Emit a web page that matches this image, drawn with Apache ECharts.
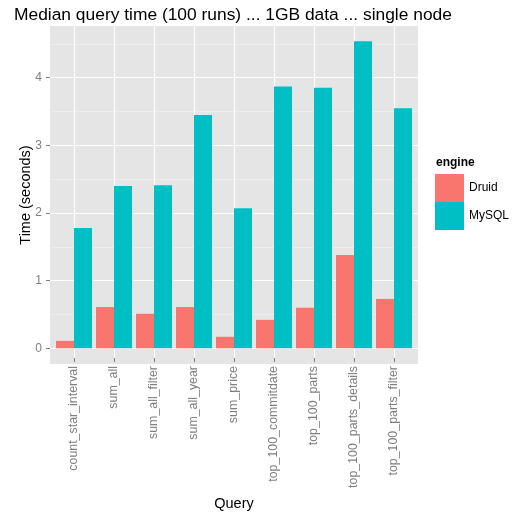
<!DOCTYPE html>
<html><head><meta charset="utf-8">
<script src="https://cdn.jsdelivr.net/npm/echarts@6/dist/echarts.min.js"></script>
<style>html,body{margin:0;padding:0;background:#fff}#c{width:513px;height:516px}</style>
</head><body><div id="c"></div>
<script>
const categories = ['count_star_interval','sum_all','sum_all_filter','sum_all_year','sum_price','top_100_commitdate','top_100_parts','top_100_parts_details','top_100_parts_filter'];
const druid = [0.11, 0.61, 0.51, 0.61, 0.17, 0.42, 0.60, 1.38, 0.73];
const mysql = [1.78, 2.40, 2.41, 3.45, 2.07, 3.87, 3.85, 4.54, 3.55];
const seriesNames = ['Druid', 'MySQL'];
const yMajorMax = 4;
const yMinorMax = 4.5;

const W = 513, H = 516;
const pL = 50, pR = 418, pT = 26, pB = 364;
const y0 = 348.3, unit = 67.65;
const catW = (pR - pL) / (categories.length - 1 + 1.2);
const font = "'Liberation Sans', Arial, Helvetica, sans-serif";
const gray = '#7F7F7F';

const chart = echarts.init(document.getElementById('c'), null, {renderer: 'canvas'});
const hidden = {axisLine:{show:false}, axisTick:{show:false}, axisLabel:{show:false}, splitLine:{show:false}};
const option = {
  animation: false,
  backgroundColor: '#fff',
  title: [
    {text: 'Median query time (100 runs) ... 1GB data ... single node', left: 14, top: 7, padding: 0,
     textStyle: {fontFamily: font, fontSize: 17.4, fontWeight: 'normal', color: '#000'}},
    {text: 'engine', left: 436, top: 157, padding: 0,
     textStyle: {fontFamily: font, fontSize: 12, fontWeight: 'bold', color: '#000'}}
  ],
  legend: {
    orient: 'vertical', left: 435, top: 174, padding: 0, itemGap: 0,
    itemWidth: 29, itemHeight: 28, icon: 'rect',
    textStyle: {fontFamily: font, fontSize: 12, color: '#000'},
    data: seriesNames
  },
  grid: [
    {left: pL, top: pT, width: pR - pL, height: pB - pT, show: true, backgroundColor: '#E5E5E5', borderWidth: 0},
    {left: pL, top: y0 - yMinorMax * unit, width: pR - pL, bottom: H - y0},
    {left: pL, top: y0 - yMajorMax * unit, width: pR - pL, bottom: H - y0},
    {left: pL + 0.6 * catW, top: pT, width: (categories.length - 1) * catW, height: pB - pT},
    {left: pL + 0.1 * catW, top: y0 - yMajorMax * unit, width: categories.length * catW, bottom: H - y0}
  ],
  xAxis: [
    Object.assign({type: 'value', gridIndex: 0, min: 0, max: 1}, hidden),
    Object.assign({type: 'value', gridIndex: 1, min: 0, max: 1}, hidden),
    Object.assign({type: 'value', gridIndex: 2, min: 0, max: 1}, hidden),
    {type: 'category', gridIndex: 3, data: categories, boundaryGap: false,
     name: 'Query', nameLocation: 'middle', nameGap: 138,
     nameTextStyle: {fontFamily: font, fontSize: 14.5, color: '#000'},
     axisLine: {show: false},
     axisTick: {show: true, length: 4, lineStyle: {color: gray, width: 1}},
     axisLabel: {interval: 0, rotate: 90, margin: 8, fontFamily: font, fontSize: 12.4, color: gray},
     splitLine: {show: true, lineStyle: {color: '#FFFFFF', width: 1.2}}},
    Object.assign({type: 'category', gridIndex: 4, data: categories}, hidden)
  ],
  yAxis: [
    Object.assign({type: 'value', gridIndex: 0, min: 0, max: 1,
     name: 'Time (seconds)', nameLocation: 'middle', nameRotate: 90, nameGap: 17,
     nameTextStyle: {fontFamily: font, fontSize: 14.5, color: '#000'}}, hidden),
    {type: 'value', gridIndex: 1, min: 0, max: yMinorMax, interval: 0.5, z: 0,
     axisLine: {show: false}, axisTick: {show: false}, axisLabel: {show: false},
     splitLine: {show: true, lineStyle: {color: '#F2F2F2', width: 0.6}}},
    {type: 'value', gridIndex: 2, min: 0, max: yMajorMax, interval: 1, z: 1,
     axisLine: {show: false},
     axisTick: {show: true, length: 4, lineStyle: {color: gray, width: 1}},
     axisLabel: {margin: 8, fontFamily: font, fontSize: 12, color: gray},
     splitLine: {show: true, lineStyle: {color: '#FFFFFF', width: 1.2}}},
    Object.assign({type: 'value', gridIndex: 3, min: 0, max: 1}, hidden),
    Object.assign({type: 'value', gridIndex: 4, min: 0, max: yMajorMax}, hidden)
  ],
  series: [
    {name: 'Druid', type: 'bar', xAxisIndex: 4, yAxisIndex: 4, data: druid, barWidth: catW * 0.45, barGap: '0%',
     clip: false, itemStyle: {color: '#F8766D'}, z: 3},
    {name: 'MySQL', type: 'bar', xAxisIndex: 4, yAxisIndex: 4, data: mysql, barWidth: catW * 0.45, barGap: '0%',
     clip: false, itemStyle: {color: '#00BFC4'}, z: 3}
  ]
};
chart.setOption(option);
</script></body></html>
